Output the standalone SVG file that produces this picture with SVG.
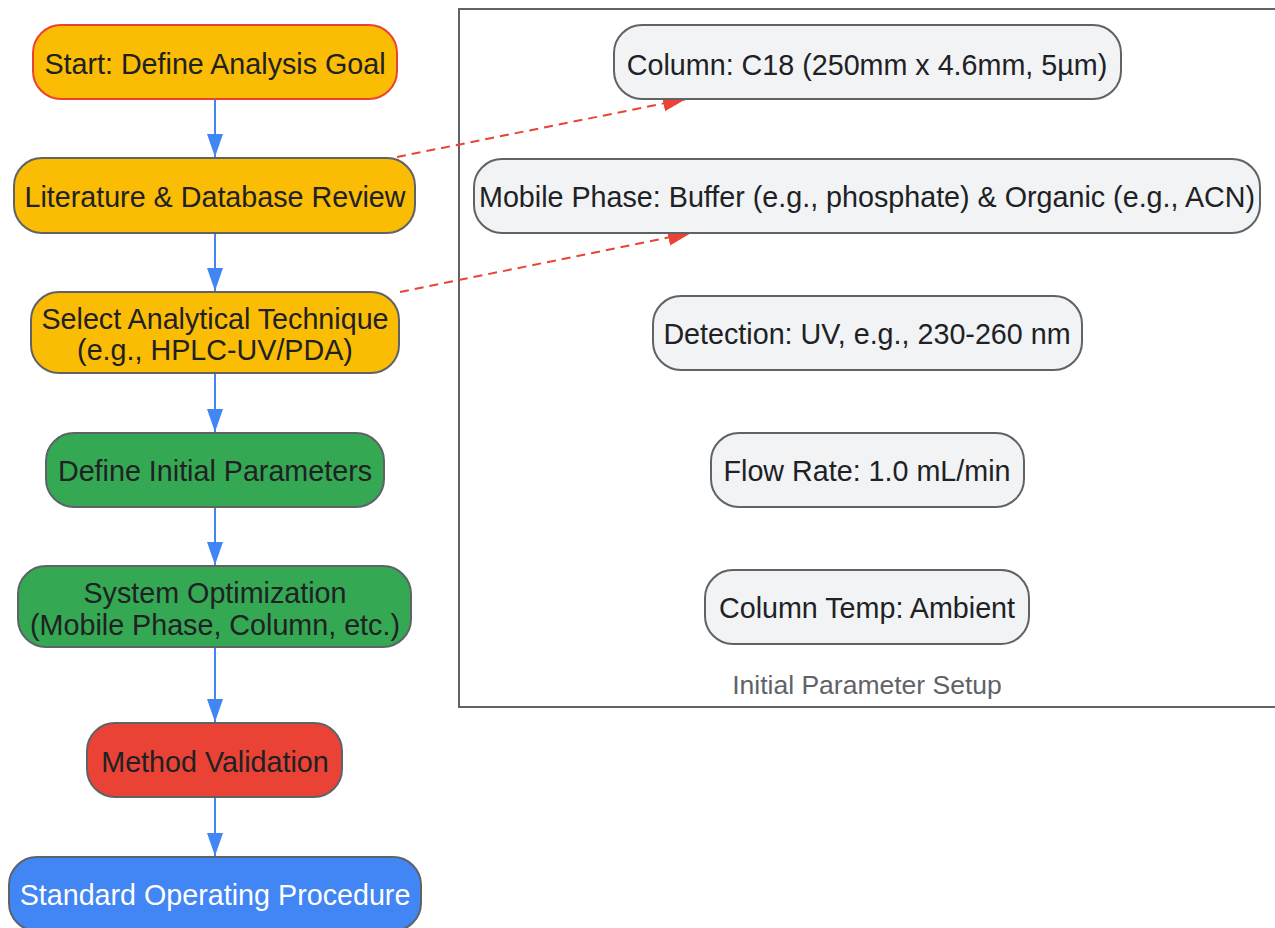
<svg xmlns="http://www.w3.org/2000/svg" width="1275" height="928" viewBox="0 0 1275 928">
<style>
.t{font-family:"Liberation Sans",Arial,sans-serif;font-size:28.7px;fill:#202124;text-anchor:middle;dominant-baseline:central}
.w{fill:#ffffff}
.n{stroke:#5f6368;stroke-width:2}
.p{fill:#f1f3f4;stroke:#5f6368;stroke-width:2}
.e{fill:none;stroke:#4285f4;stroke-width:2}
.d{fill:none;stroke:#ea4335;stroke-width:2;stroke-dasharray:9,6}
</style>
<defs>
<marker id="ab" markerUnits="userSpaceOnUse" markerWidth="24" markerHeight="18" refX="23" refY="8" orient="auto"><path d="M0,0 L23,8 L0,16 z" fill="#4285f4"/></marker>
<marker id="ar" markerUnits="userSpaceOnUse" markerWidth="24" markerHeight="18" refX="23" refY="8" orient="auto"><path d="M0,0 L23,8 L0,16 z" fill="#ea4335"/></marker>
</defs>
<g id="cluster">
<rect x="459" y="9" width="830" height="698" fill="none" stroke="#5f6368" stroke-width="2"/>
<text class="t" x="867" y="685" style="fill:#5f6368;font-size:26.5px">Initial Parameter Setup</text>
</g>
<g id="edges">
<path class="e" d="M215,99 L215,157" marker-end="url(#ab)"/>
<path class="e" d="M215,233 L215,291" marker-end="url(#ab)"/>
<path class="e" d="M215,373 L215,432" marker-end="url(#ab)"/>
<path class="e" d="M215,507 L215,565" marker-end="url(#ab)"/>
<path class="e" d="M215,647 L215,722" marker-end="url(#ab)"/>
<path class="e" d="M215,797 L215,856" marker-end="url(#ab)"/>
<path class="d" d="M397,157 L686,99" marker-end="url(#ar)"/>
<path class="d" d="M400,292 L691,233" marker-end="url(#ar)"/>
</g>
<g id="n-start"><rect x="33" y="25" width="364" height="74" rx="28" fill="#fbbc04" stroke="#ea4335" stroke-width="2"/><text class="t" x="215" y="64">Start: Define Analysis Goal</text></g>
<g id="n-lit"><rect class="n" x="14" y="158" width="401" height="75" rx="28" fill="#fbbc04"/><text class="t" x="215" y="197">Literature &amp; Database Review</text></g>
<g id="n-select"><rect class="n" x="31" y="292" width="368" height="81" rx="28" fill="#fbbc04"/><text class="t" x="215" y="319">Select Analytical Technique</text><text class="t" x="215" y="350">(e.g., HPLC-UV/PDA)</text></g>
<g id="n-define"><rect class="n" x="46" y="433" width="338" height="74" rx="28" fill="#34a853"/><text class="t" x="215" y="471">Define Initial Parameters</text></g>
<g id="n-opt"><rect class="n" x="18" y="566" width="393" height="81" rx="28" fill="#34a853"/><text class="t" x="215" y="593">System Optimization</text><text class="t" x="215" y="625">(Mobile Phase, Column, etc.)</text></g>
<g id="n-valid"><rect class="n" x="87" y="723" width="255" height="74" rx="28" fill="#ea4335"/><text class="t" x="215" y="762">Method Validation</text></g>
<g id="n-sop"><rect class="n" x="9" y="857" width="412" height="74" rx="28" fill="#4285f4"/><text class="t w" x="215" y="895">Standard Operating Procedure</text></g>
<g id="n-col"><rect class="p" x="614" y="25" width="507" height="74" rx="28"/><text class="t" x="867" y="65">Column: C18 (250mm x 4.6mm, 5µm)</text></g>
<g id="n-mob"><rect class="p" x="474" y="159" width="786" height="74" rx="28"/><text class="t" x="867" y="197">Mobile Phase: Buffer (e.g., phosphate) &amp; Organic (e.g., ACN)</text></g>
<g id="n-det"><rect class="p" x="653" y="296" width="429" height="74" rx="28"/><text class="t" x="867" y="334">Detection: UV, e.g., 230-260 nm</text></g>
<g id="n-flow"><rect class="p" x="711" y="433" width="313" height="74" rx="28"/><text class="t" x="867" y="471">Flow Rate: 1.0 mL/min</text></g>
<g id="n-temp"><rect class="p" x="705" y="570" width="324" height="74" rx="28"/><text class="t" x="867" y="608">Column Temp: Ambient</text></g>
</svg>
